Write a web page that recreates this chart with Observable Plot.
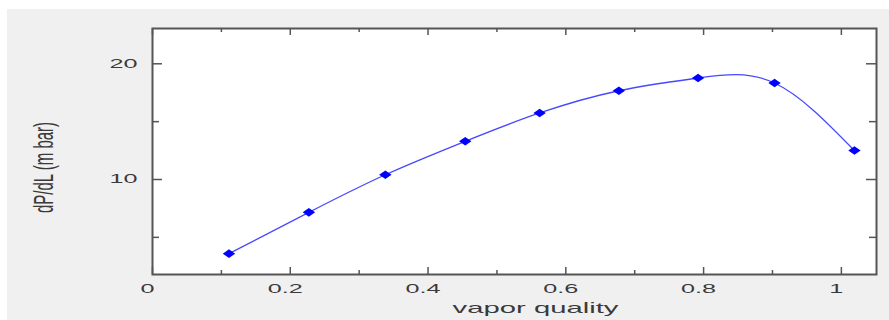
<!DOCTYPE html>
<html><head><meta charset="utf-8">
<script src="https://cdn.jsdelivr.net/npm/d3@7"></script>
<script src="https://cdn.jsdelivr.net/npm/@observablehq/plot@0.6"></script>
<style>
html,body{margin:0;padding:0;background:#fff;}
#wrap{position:absolute;left:7px;top:9px;width:882px;height:311px;background:#f0f0f0;overflow:hidden;}
#chart{position:absolute;left:-7px;top:-9px;}
</style></head><body><div id="wrap"><div id="chart"></div></div>
<script>
// data
const quality = [0.111, 0.227, 0.338, 0.454, 0.562, 0.677, 0.792, 0.903, 1.019];
const dPdL    = [3.59, 7.16, 10.41, 13.30, 15.75, 17.67, 18.77, 18.34, 12.5];
const xTicks = [0, 0.2, 0.4, 0.6, 0.8, 1];
const xMinor = [0.1, 0.3, 0.5, 0.7, 0.9];
const yTicks = [10, 20];
const yMinor = [5, 15];
const xLabel = "vapor quality";
const yLabel = "dP/dL (m bar)";

const data = quality.map((x, i) => ({x, y: dPdL[i]}));

const W = 889, H = 320, mL = 152, mR = 13, mT = 28, mB = 46;
const plotH = H - mT - mB, plotW = W - mL - mR;
const axisColor = "#555";
const textColor = "#3a3a3a";

const flatDiamond = {
  draw(ctx) {
    const w = 6.2, h = 4.3;
    ctx.moveTo(w, 0); ctx.lineTo(0, h); ctx.lineTo(-w, 0); ctx.lineTo(0, -h); ctx.closePath();
  }
};

const chart = Plot.plot({
  width: W, height: H,
  marginLeft: mL, marginRight: mR, marginTop: mT, marginBottom: mB,
  style: {background: "transparent", fontFamily: "Arial, 'Liberation Sans', sans-serif", overflow: "visible"},
  x: {domain: [0, 1.051], axis: null},
  y: {domain: [1.79, 23.05], axis: null},
  marks: [
    Plot.frame({fill: "white", stroke: null}),
    // inward ticks: bottom & top (x), left & right (y)
    Plot.tickX(xTicks, {x: d => d, insetTop: plotH - 7, stroke: axisColor, strokeWidth: 1.5}),
    Plot.tickX(xMinor, {x: d => d, insetTop: plotH - 4, stroke: axisColor, strokeWidth: 1.5}),
    Plot.tickX(xTicks, {x: d => d, insetBottom: plotH - 7, stroke: axisColor, strokeWidth: 1.5}),
    Plot.tickX(xMinor, {x: d => d, insetBottom: plotH - 4, stroke: axisColor, strokeWidth: 1.5}),
    Plot.tickY(yTicks, {y: d => d, insetRight: plotW - 10, stroke: axisColor, strokeWidth: 1.5}),
    Plot.tickY(yMinor, {y: d => d, insetRight: plotW - 7, stroke: axisColor, strokeWidth: 1.5}),
    Plot.tickY(yTicks, {y: d => d, insetLeft: plotW - 10, stroke: axisColor, strokeWidth: 1.5}),
    Plot.tickY(yMinor, {y: d => d, insetLeft: plotW - 7, stroke: axisColor, strokeWidth: 1.5}),
    Plot.axisX(xTicks, {tickSize: 0, tickPadding: 10, fontSize: 12, dx: -5, fill: textColor, tickFormat: d => String(d), label: null}),
    Plot.axisY(yTicks, {tickSize: 0, tickPadding: 15, fontSize: 12, fill: textColor, tickFormat: d => String(d), label: null}),
    Plot.line(data, {x: "x", y: "y", curve: "natural", stroke: "#4848ff", strokeWidth: 1.3}),
    Plot.dot(data, {x: "x", y: "y", symbol: flatDiamond, r: 5, fill: "#0000ff", stroke: null}),
    Plot.text([xLabel], {frameAnchor: "bottom", dx: 21, dy: 34, textAnchor: "middle", lineAnchor: "middle", fontSize: 15, fill: textColor, text: d => d}),
    Plot.text([yLabel], {frameAnchor: "left", dx: -108, dy: 16, rotate: -90, textAnchor: "middle", lineAnchor: "middle", fontSize: 15, fill: textColor, text: d => d}),
    Plot.frame({stroke: axisColor, strokeWidth: 2})
  ]
});
document.getElementById("chart").appendChild(chart);

// horizontal stretch of the texts, as in the reference picture
chart.querySelectorAll("text").forEach(t => {
  if (t.textContent === yLabel) {
    const tr = t.getAttribute("transform") || "";
    t.setAttribute("transform", tr.replace(/rotate/, "scale(1.8,1) rotate"));
  } else {
    const len = t.getComputedTextLength();
    const f = t.textContent === xLabel ? 1.95 : 2.1;
    t.setAttribute("textLength", len * f);
    t.setAttribute("lengthAdjust", "spacingAndGlyphs");
  }
});
</script></body></html>
